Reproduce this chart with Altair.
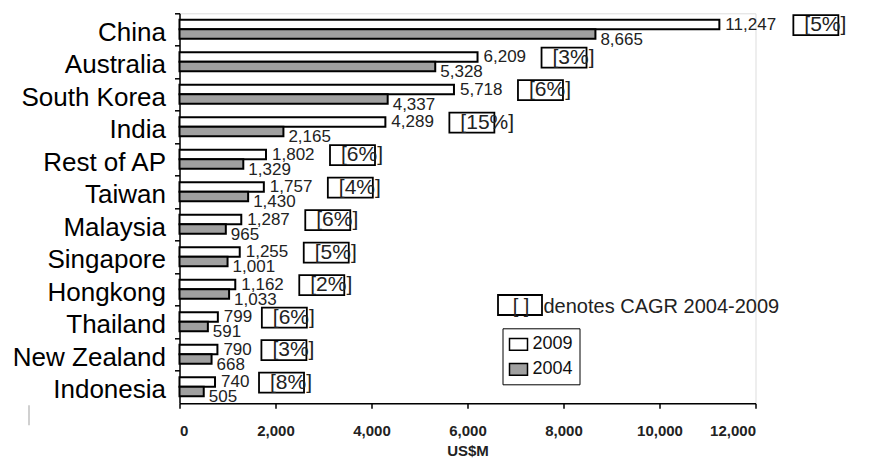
import altair as alt
import pandas as pd

countries = ["China", "Australia", "South Korea", "India", "Rest of AP", "Taiwan",
             "Malaysia", "Singapore", "Hongkong", "Thailand", "New Zealand", "Indonesia"]
v2009 = [11247, 6209, 5718, 4289, 1802, 1757, 1287, 1255, 1162, 799, 790, 740]
v2004 = [8665, 5328, 4337, 2165, 1329, 1430, 965, 1001, 1033, 591, 668, 505]
cagr = [5, 3, 6, 15, 6, 4, 6, 5, 2, 6, 3, 8]
series = ["2009", "2004"]
x_ticks = [0, 2000, 4000, 6000, 8000, 10000, 12000]
note_text = "denotes CAGR 2004-2009"

W, H = 576, 390
XMAX = 12000
PX = W / XMAX  # pixels per data unit

df = pd.DataFrame({"country": countries, "v2009": v2009, "v2004": v2004, "cagr": cagr})
df["lab09"] = df["v2009"].map("{:,}".format)
df["lab04"] = df["v2004"].map("{:,}".format)
df["cagr_lab"] = "[" + df["cagr"].astype(str) + "%]"

FONT = "Liberation Sans"

fill_scale = alt.Scale(domain=series, range=["#ffffff", "#a0a0a0"])
legend = alt.Legend(
    title=None, orient="none", legendX=323, legendY=315,
    strokeColor="black", padding=6, rowPadding=6,
    symbolType="M-1,-0.65L1,-0.65L1,0.65L-1,0.65Z", symbolSize=324,
    symbolStrokeColor="black", symbolStrokeWidth=1.5,
    labelFont=FONT, labelFontSize=18, labelColor="#111", labelOffset=4,
)

y_enc = alt.Y(
    "country:N", sort=countries, title=None,
    scale=alt.Scale(paddingInner=0, paddingOuter=0),
    axis=alt.Axis(
        bandPosition=0, labelOffset=3, tickSize=5, tickWidth=1.5,
        tickColor="black", domainColor="black", domainWidth=1.5,
        labelFont=FONT, labelFontSize=26, labelColor="black", labelPadding=9,
        labelBaseline="middle",
    ),
)
x_scale = alt.Scale(domain=[0, XMAX], nice=False)
x_axis = alt.Axis(
    values=x_ticks, format=",d", grid=False, tickSize=5, tickWidth=1.5,
    tickColor="black", domainColor="black", domainWidth=1.5,
    labelFont=FONT, labelFontSize=15, labelFontWeight="bold", labelColor="#222",
    labelPadding=15, title="US$M", titleFont=FONT, titleFontSize=15,
    titleFontWeight="bold", titleColor="#222", titlePadding=5,
)

base = alt.Chart(df)

bar09 = base.transform_calculate(series="'2009'").mark_bar(
    height=9.5, yOffset=-5, stroke="black", strokeWidth=2
).encode(
    x=alt.X("v2009:Q", scale=x_scale, axis=x_axis),
    y=y_enc,
    fill=alt.Fill("series:N", scale=fill_scale, legend=legend),
)
bar04 = base.transform_calculate(series="'2004'").mark_bar(
    height=9.5, yOffset=4.5, stroke="black", strokeWidth=2
).encode(
    x=alt.X("v2004:Q", scale=x_scale),
    y=y_enc,
    fill=alt.Fill("series:N", scale=fill_scale, legend=legend),
)

lab09 = base.mark_text(
    align="left", baseline="middle", dx=6, dy=-5, font=FONT, fontSize=17, color="#222"
).encode(x="v2009:Q", y=y_enc, text="lab09:N")
lab04 = base.mark_text(
    align="left", baseline="middle", dx=5, dy=10, font=FONT, fontSize=17, color="#222"
).encode(x="v2004:Q", y=y_enc, text="lab04:N")

cagr_base = base.transform_calculate(
    box_l=f"datum.v2009 + (10*length(datum.lab09) + 14) / {PX}",
).transform_calculate(
    box_r=f"datum.box_l + 45 / {PX}",
    text_x=f"datum.box_l + 11 / {PX}",
)
boxes = cagr_base.mark_bar(
    height=20, yOffset=-4.5, fill="white", fillOpacity=0, stroke="black", strokeWidth=1.8
).encode(x="box_l:Q", x2="box_r:Q", y=y_enc)
cagr_txt = cagr_base.mark_text(
    align="left", baseline="middle", dy=-4.5, font=FONT, fontSize=21, color="#222"
).encode(x="text_x:Q", y=y_enc, text="cagr_lab:N")

note_df = pd.DataFrame({"t": [note_text]})
note_box = alt.Chart(note_df).mark_rect(
    fill="white", fillOpacity=0, stroke="black", strokeWidth=1.8
).encode(x=alt.value(318.5), x2=alt.value(362.5), y=alt.value(281.7), y2=alt.value(301.7))
note_br = alt.Chart(note_df).mark_text(
    align="center", baseline="middle", font=FONT, fontSize=20, color="#222"
).encode(x=alt.value(341.5), y=alt.value(294), text=alt.value("[  ]"))
note_tx = alt.Chart(note_df).mark_text(
    align="left", baseline="middle", font=FONT, fontSize=20, color="#222"
).encode(x=alt.value(364), y=alt.value(294), text="t:N")

stub = alt.Chart(note_df).mark_rule(color="#d0d0d0", strokeWidth=2).encode(
    x=alt.value(-150.5), y=alt.value(392), y2=alt.value(412)
)

chart = alt.layer(
    bar09, bar04, lab09, lab04, boxes, cagr_txt, note_box, note_br, note_tx, stub
).properties(
    width=W, height=H,
    autosize=alt.AutoSizeParams(type="none"),
    padding={"left": 171.5, "top": 5.3, "right": 122.5, "bottom": 56.7},
).configure_view(stroke=None).configure(background="white")

chart.save("out.html", embed_options={"renderer": "svg", "actions": False})
